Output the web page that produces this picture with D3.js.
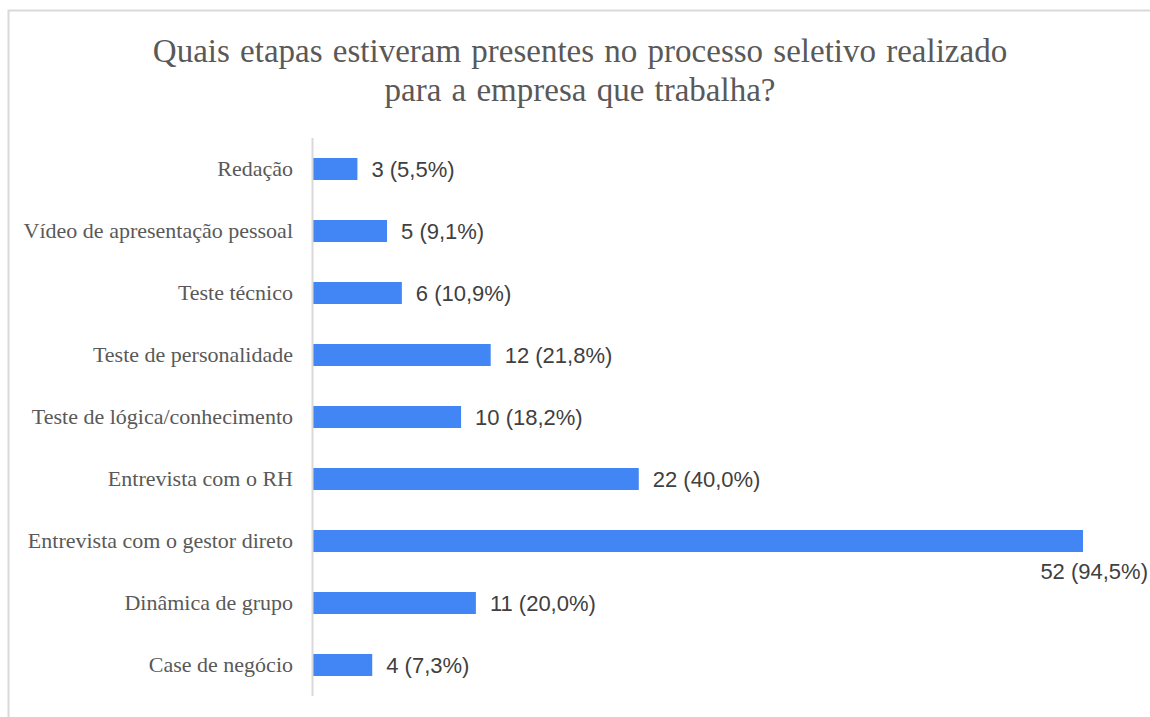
<!DOCTYPE html>
<html>
<head>
<meta charset="utf-8">
<script src="https://cdn.jsdelivr.net/npm/d3@7"></script>
<style>
  body { margin: 0; background: #fff; }
  svg { display: block; }
</style>
</head>
<body>
<div id="chart"></div>
<script>
const W = 1150;
const H = 717;

const titleLines = [
  'Quais etapas estiveram presentes no processo seletivo realizado',
  'para a empresa que trabalha?'
];
const categories = [
  'Redação',
  'Vídeo de apresentação pessoal',
  'Teste técnico',
  'Teste de personalidade',
  'Teste de lógica/conhecimento',
  'Entrevista com o RH',
  'Entrevista com o gestor direto',
  'Dinâmica de grupo',
  'Case de negócio'
];
const counts = [3, 5, 6, 12, 10, 22, 52, 11, 4];
const percents = ['5,5%', '9,1%', '10,9%', '21,8%', '18,2%', '40,0%', '94,5%', '20,0%', '7,3%'];

const data = categories.map((c, i) => ({ cat: c, n: counts[i], pct: percents[i] }));

const margin = { left: 313, top: 138, right: 67, bottom: 21 };

const svg = d3.select('#chart').append('svg')
  .attr('width', W)
  .attr('height', H);

// outer frame
svg.append('rect')
  .attr('x', 8.5).attr('y', 10.5)
  .attr('width', W + 20).attr('height', H + 20)
  .attr('fill', 'none')
  .attr('stroke', '#d9d9d9')
  .attr('stroke-width', 2);

// title
svg.append('g')
  .selectAll('text')
  .data(titleLines)
  .join('text')
  .attr('x', 580)
  .attr('y', (d, i) => 62 + i * 39)
  .attr('text-anchor', 'middle')
  .style('font-family', '"Liberation Serif", "Times New Roman", serif')
  .style('font-size', '33px')
  .style('word-spacing', '2px')
  .attr('fill', '#595959')
  .text(d => d);

const x = d3.scaleLinear()
  .domain([0, 52])
  .range([margin.left, 1083]);

const y = d3.scaleBand()
  .domain(categories)
  .range([margin.top, H - margin.bottom])
  .paddingInner(0.645)
  .paddingOuter(0.3225);

// category labels
const yAxis = svg.append('g')
  .attr('transform', `translate(${margin.left},0)`)
  .call(d3.axisLeft(y).tickSize(0).tickPadding(20));

yAxis.select('.domain').remove();
yAxis.selectAll('text')
  .style('font-family', '"Liberation Serif", "Times New Roman", serif')
  .style('font-size', '22px')
  .attr('fill', '#595959');

// bars
svg.append('g')
  .selectAll('rect')
  .data(data)
  .join('rect')
  .attr('x', x(0))
  .attr('y', d => y(d.cat))
  .attr('width', d => x(d.n) - x(0))
  .attr('height', y.bandwidth())
  .attr('fill', '#4285f4');

// axis line
svg.append('line')
  .attr('x1', margin.left - 0.5).attr('x2', margin.left - 0.5)
  .attr('y1', margin.top).attr('y2', H - margin.bottom)
  .attr('stroke', '#d9d9d9')
  .attr('stroke-width', 2);

// value labels
const maxN = d3.max(counts);
svg.append('g')
  .selectAll('text')
  .data(data)
  .join('text')
  .attr('x', d => d.n === maxN ? 1148 : x(d.n) + 14)
  .attr('y', d => y(d.cat) + y.bandwidth() / 2 + (d.n === maxN ? 30 : 0))
  .attr('dy', '0.35em')
  .attr('text-anchor', d => d.n === maxN ? 'end' : 'start')
  .style('font-family', '"Liberation Sans", Arial, sans-serif')
  .style('font-size', '22px')
  .attr('fill', '#404040')
  .text(d => `${d.n} (${d.pct})`);
</script>
</body>
</html>
